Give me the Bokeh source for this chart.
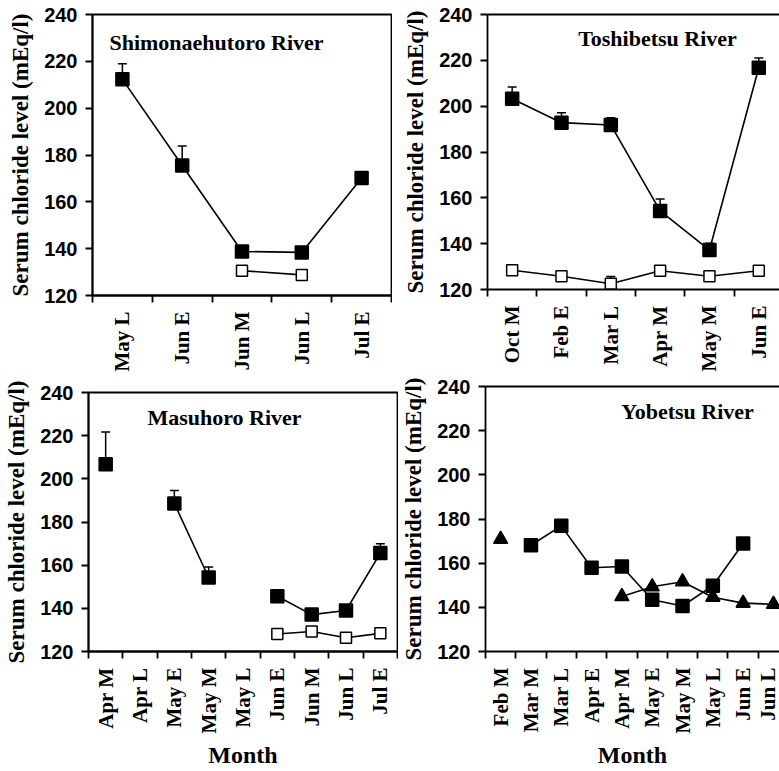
import math

from bokeh.embed import file_html
from bokeh.layouts import column, row
from bokeh.models import (ColumnDataSource, FixedTicker, Label, LinearAxis,
                          Range1d, TeeHead, Whisker)
from bokeh.plotting import figure
from bokeh.resources import INLINE

nan = float("nan")

# ---------------------------------------------------------------- data
# Shimonaehutoro River
shimo_months = ["May L", "Jun E", "Jun M", "Jun L", "Jul E"]
shimo_filled = [212.3, 175.5, 138.8, 138.4, 170.2]
shimo_filled_se = [6.7, 8.3, nan, nan, nan]
shimo_open = [nan, nan, 130.6, 128.8, nan]

# Toshibetsu River
toshi_months = ["Oct M", "Feb E", "Mar L", "Apr M", "May M", "Jun E"]
toshi_filled = [203.2, 192.8, 191.8, 154.3, 137.2, 216.8]
toshi_filled_se = [5.2, 4.3, 3.2, 5.2, 3.0, 4.2]
toshi_open = [128.4, 125.8, 122.5, 128.2, 125.8, 128.2]
toshi_open_se = [nan, nan, 3.2, nan, nan, nan]

# Masuhoro River
masu_months = ["Apr M", "Apr L", "May E", "May M", "May L",
               "Jun E", "Jun M", "Jun L", "Jul E"]
masu_filled = [206.7, nan, 188.6, 154.3, nan, 145.6, 137.1, 139.0, 165.6]
masu_filled_se = [15.0, nan, 6.0, 4.8, nan, nan, nan, 2.3, 4.3]
masu_open = [nan, nan, nan, nan, nan, 128.1, 129.3, 126.4, 128.4]

# Yobetsu River
yobe_months = ["Feb M", "Mar M", "Mar L", "Apr E", "Apr M",
               "May E", "May M", "May L", "Jun E", "Jun L"]
yobe_square = [nan, 168.1, 176.9, 157.9, 158.5, 143.4, 140.6, 149.8, 168.9, nan]
yobe_triangle = [170.8, nan, nan, nan, 144.9, 149.3, 151.6, 144.6, 141.9, 141.4]

y_ticks = [120, 140, 160, 180, 200, 220, 240]

SERIF = "Liberation Serif"
SANS = "Liberation Sans"
LW = 1.8


def make_panel(months, width, height, x_end, borders, title, title_xy,
               month_label, right_edge):
    left, right, top, bottom = borders
    n = len(months)
    p = figure(width=width, height=height, output_backend="svg",
               toolbar_location=None, tools="",
               x_range=Range1d(-0.5, x_end), y_range=Range1d(120, 240),
               min_border_left=left, min_border_right=right,
               min_border_top=top, min_border_bottom=bottom)
    p.frame_align = False
    p.grid.visible = False
    p.background_fill_color = "white"
    p.border_fill_color = "white"

    if right_edge:
        p.outline_line_color = "black"
        p.outline_line_width = LW
        p.outline_line_alpha = 1.0
    else:
        # box closed on top only; the right side runs past the page edge
        p.outline_line_color = None
        top_axis = LinearAxis(ticker=FixedTicker(ticks=[]),
                              major_tick_out=0, major_tick_in=0,
                              minor_tick_out=0, minor_tick_in=0,
                              major_label_text_font_size="0px",
                              axis_line_color="black", axis_line_width=LW)
        p.add_layout(top_axis, "above")

    xa = p.below[0]
    xa.ticker = FixedTicker(ticks=list(range(n)),
                            minor_ticks=[i - 0.5 for i in range(n + 1)])
    xa.major_label_overrides = {i: m for i, m in enumerate(months)}
    xa.major_label_orientation = math.pi / 2
    xa.major_label_text_font = SERIF
    xa.major_label_text_font_style = "bold"
    xa.major_label_text_font_size = "21px"
    xa.major_label_text_color = "black"
    xa.major_label_standoff = 9
    xa.major_tick_line_color = None
    xa.major_tick_out = 0
    xa.major_tick_in = 0
    xa.minor_tick_line_color = "black"
    xa.minor_tick_line_width = LW
    xa.minor_tick_out = 7
    xa.minor_tick_in = 0
    xa.axis_line_color = "black"
    xa.axis_line_width = LW
    if month_label:
        xa.axis_label = "Month"
        xa.axis_label_text_font = SERIF
        xa.axis_label_text_font_style = "bold"
        xa.axis_label_text_font_size = "24px"
        xa.axis_label_text_color = "black"
        xa.axis_label_standoff = 6

    ya = p.left[0]
    ya.ticker = FixedTicker(ticks=y_ticks)
    ya.major_label_text_font = SANS
    ya.major_label_text_font_style = "bold"
    ya.major_label_text_font_size = "20px"
    ya.major_label_text_color = "black"
    ya.major_label_standoff = 8
    ya.major_tick_out = 7
    ya.major_tick_in = 0
    ya.major_tick_line_color = "black"
    ya.major_tick_line_width = LW
    ya.minor_tick_line_color = None
    ya.axis_line_color = "black"
    ya.axis_line_width = LW
    ya.axis_label = "Serum chloride level (mEq/l)"
    ya.axis_label_text_font = SERIF
    ya.axis_label_text_font_style = "bold"
    ya.axis_label_text_font_size = "23px"
    ya.axis_label_text_color = "black"
    ya.axis_label_standoff = 8

    p.add_layout(Label(x=title_xy[0], y=title_xy[1], x_units="screen",
                       y_units="screen", text=title, text_font=SERIF,
                       text_font_style="bold", text_font_size="22px",
                       text_color="black", text_align="center",
                       text_baseline="alphabetic"))
    return p


def add_errors(p, values, se):
    xs, base_y, upper_y = [], [], []
    for i, (v, e) in enumerate(zip(values, se)):
        if not math.isnan(v) and not math.isnan(e):
            xs.append(i)
            base_y.append(v)
            upper_y.append(v + e)
    src = ColumnDataSource(dict(x=xs, lower=base_y, upper=upper_y))
    p.add_layout(Whisker(base="x", lower="lower", upper="upper", source=src,
                         dimension="height", line_color="black",
                         line_width=1.5, lower_head=None,
                         upper_head=TeeHead(size=9, line_color="black",
                                            line_width=1.5)))


def add_series(p, values, marker, filled, size):
    xs = list(range(len(values)))
    p.line(xs, values, line_color="black", line_width=1.6)
    p.scatter(xs, values, marker=marker, size=size,
              fill_color="black" if filled else "white",
              line_color="black", line_width=1.5)


# ---------------------------------------------------------------- panels
p1 = make_panel(shimo_months, 392, 374, 4.5, (92, 1, 14, 77),
                "Shimonaehutoro River", (124, 253), False, True)
add_errors(p1, shimo_filled, shimo_filled_se)
add_series(p1, shimo_filled, "square", True, 13)
add_series(p1, shimo_open, "square", False, 11)

p2 = make_panel(toshi_months, 387, 374, 5.42, (95, 0, 14, 83),
                "Toshibetsu River", (170, 251), False, False)
add_errors(p2, toshi_filled, toshi_filled_se)
add_errors(p2, toshi_open, toshi_open_se)
add_series(p2, toshi_filled, "square", True, 13)
add_series(p2, toshi_open, "square", False, 11)

p3 = make_panel(masu_months, 398, 397, 8.5, (88, 1, 18, 114),
                "Masuhoro River", (136, 234), True, True)
add_errors(p3, masu_filled, masu_filled_se)
add_series(p3, masu_filled, "square", True, 13)
add_series(p3, masu_open, "square", False, 11)

p4 = make_panel(yobe_months, 381, 397, 9.2, (87, 0, 12, 116),
                "Yobetsu River", (202, 240), True, False)
add_series(p4, yobe_square, "square", True, 13)
add_series(p4, yobe_triangle, "triangle", True, 14)

layout = column(row(p1, p2), row(p3, p4))

open("out.html", "w").write(file_html(layout, INLINE))
